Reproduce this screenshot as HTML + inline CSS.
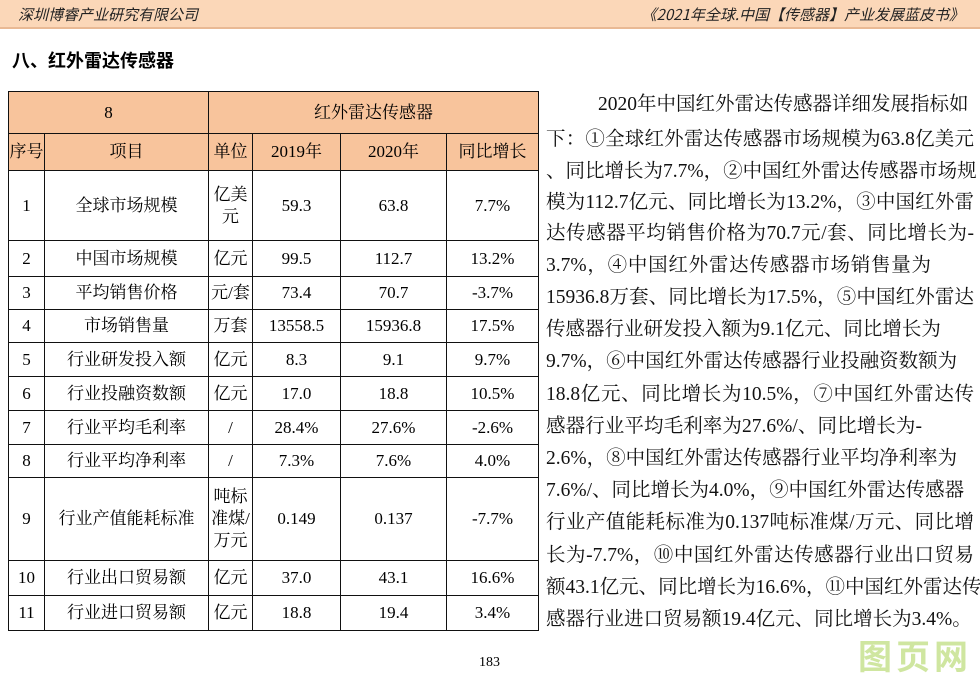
<!DOCTYPE html>
<html><head><meta charset="utf-8"><style>
body{margin:0;width:980px;height:673px;background:#fff;position:relative;overflow:hidden;font-family:"Liberation Serif","Noto Serif CJK SC",serif;}
.hdr{position:absolute;left:0;top:0;width:980px;height:27px;background:#fbd7b8;border-bottom:2px solid #e9b994;}
.hdr span{position:absolute;top:4px;font-size:15px;font-style:italic;color:#222;font-family:"Noto Sans CJK SC",sans-serif;}
.h1{position:absolute;left:12px;top:47px;font-size:18px;font-weight:bold;font-family:"Noto Sans CJK SC",sans-serif;}
table{position:absolute;left:8px;top:91px;border-collapse:collapse;font-size:17px;}
td{border:1px solid #111;text-align:center;padding:0;line-height:22px;}
.or td{background:#f8c49c;}
.p{position:absolute;left:546px;font-size:19.5px;white-space:nowrap;width:428px;text-align:justify;text-align-last:justify;line-height:24px;color:#111;}
.wm{position:absolute;left:858px;top:630px;font-size:34px;font-weight:bold;color:#cfe6a0;letter-spacing:4px;font-family:"Noto Sans CJK SC",sans-serif;}
</style></head><body>
<div class="hdr"><span style="left:18px">深圳博睿产业研究有限公司</span><span style="right:16px">《2021年全球.中国【传感器】产业发展蓝皮书》</span></div>
<div class="h1">八、红外雷达传感器</div>
<table>
<colgroup><col style="width:36px"><col style="width:164px"><col style="width:44px"><col style="width:88px"><col style="width:106px"><col style="width:92px"></colgroup>
<tr class="or" style="height:42px"><td colspan="2">8</td><td colspan="4">红外雷达传感器</td></tr>
<tr class="or" style="height:37px"><td>序号</td><td>项目</td><td>单位</td><td>2019年</td><td>2020年</td><td>同比增长</td></tr>
<tr style="height:70px"><td>1</td><td>全球市场规模</td><td>亿美<br>元</td><td>59.3</td><td>63.8</td><td>7.7%</td></tr>
<tr style="height:36px"><td>2</td><td>中国市场规模</td><td>亿元</td><td>99.5</td><td>112.7</td><td>13.2%</td></tr>
<tr style="height:33px"><td>3</td><td>平均销售价格</td><td>元/套</td><td>73.4</td><td>70.7</td><td>-3.7%</td></tr>
<tr style="height:33px"><td>4</td><td>市场销售量</td><td>万套</td><td>13558.5</td><td>15936.8</td><td>17.5%</td></tr>
<tr style="height:34px"><td>5</td><td>行业研发投入额</td><td>亿元</td><td>8.3</td><td>9.1</td><td>9.7%</td></tr>
<tr style="height:34px"><td>6</td><td>行业投融资数额</td><td>亿元</td><td>17.0</td><td>18.8</td><td>10.5%</td></tr>
<tr style="height:34px"><td>7</td><td>行业平均毛利率</td><td>/</td><td>28.4%</td><td>27.6%</td><td>-2.6%</td></tr>
<tr style="height:33px"><td>8</td><td>行业平均净利率</td><td>/</td><td>7.3%</td><td>7.6%</td><td>4.0%</td></tr>
<tr style="height:83px"><td>9</td><td>行业产值能耗标准</td><td>吨标<br>准煤/<br>万元</td><td>0.149</td><td>0.137</td><td>-7.7%</td></tr>
<tr style="height:35px"><td>10</td><td>行业出口贸易额</td><td>亿元</td><td>37.0</td><td>43.1</td><td>16.6%</td></tr>
<tr style="height:35px"><td>11</td><td>行业进口贸易额</td><td>亿元</td><td>18.8</td><td>19.4</td><td>3.4%</td></tr>
</table>
<div class="p" style="top:93px;left:598px;width:366px">2020年中国红外雷达传感器详细发展指标如</div>
<div class="p" style="top:128px">下：①全球红外雷达传感器市场规模为63.8亿美元</div>
<div class="p" style="top:160px">、同比增长为7.7%，②中国红外雷达传感器市场规</div>
<div class="p" style="top:191px">模为112.7亿元、同比增长为13.2%，③中国红外雷</div>
<div class="p" style="top:222px">达传感器平均销售价格为70.7元/套、同比增长为-</div>
<div class="p" style="top:254px;width:385px">3.7%，④中国红外雷达传感器市场销售量为</div>
<div class="p" style="top:286px">15936.8万套、同比增长为17.5%，⑤中国红外雷达</div>
<div class="p" style="top:318px;width:385px">传感器行业研发投入额为9.1亿元、同比增长为</div>
<div class="p" style="top:350px;width:400px">9.7%，⑥中国红外雷达传感器行业投融资数额为</div>
<div class="p" style="top:383px">18.8亿元、同比增长为10.5%，⑦中国红外雷达传</div>
<div class="p" style="top:415px;width:376px">感器行业平均毛利率为27.6%/、同比增长为-</div>
<div class="p" style="top:447px;width:400px">2.6%，⑧中国红外雷达传感器行业平均净利率为</div>
<div class="p" style="top:479px;width:400px">7.6%/、同比增长为4.0%，⑨中国红外雷达传感器</div>
<div class="p" style="top:511px">行业产值能耗标准为0.137吨标准煤/万元、同比增</div>
<div class="p" style="top:544px">长为-7.7%，⑩中国红外雷达传感器行业出口贸易</div>
<div class="p" style="top:576px">额43.1亿元、同比增长为16.6%，⑪中国红外雷达传</div>
<div class="p" style="top:608px;width:404px">感器行业进口贸易额19.4亿元、同比增长为3.4%。</div>
<div style="position:absolute;left:479px;top:655px;font-size:14px">183</div>
<div class="wm">图页网</div>
</body></html>
